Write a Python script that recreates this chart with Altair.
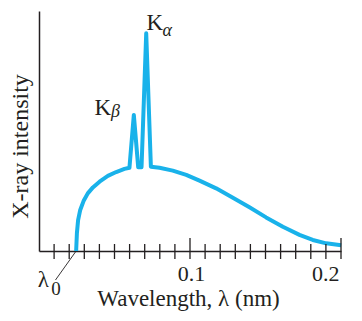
import altair as alt
import pandas as pd

# continuous spectrum with the two characteristic lines
wavelength = [0.0246, 0.0251, 0.0259, 0.0273, 0.0295, 0.0323, 0.0357, 0.0401, 0.0456,
              0.0511, 0.0566, 0.0599, 0.0628, 0.0657, 0.0679, 0.0710, 0.0741, 0.0798,
              0.0886, 0.0975, 0.1063, 0.1173, 0.1284, 0.1394, 0.1504, 0.1615, 0.1725,
              0.1813, 0.1902, 0.2001]
intensity = [0, 7.4, 12.9, 17.1, 20.8, 24.0, 26.5, 28.9, 31.3,
             32.9, 34.2, 34.7, 56.7, 34.9, 34.9, 90.7, 35.1, 34.7,
             33.5, 31.7, 29.3, 26.1, 22.2, 18.2, 14.0, 10.1, 6.7,
             4.6, 3.2, 2.4]

minor_ticks = [0.01, 0.02, 0.03, 0.04, 0.05, 0.06, 0.07, 0.08, 0.09,
               0.11, 0.12, 0.13, 0.14, 0.15, 0.16, 0.17, 0.18, 0.19]
major_ticks = [0.1, 0.2]
tick_labels = [0.1, 0.2]

peak_names = ["K", "K"]
peak_subs = ["α", "β"]
lambda_name = ["λ"]
lambda_sub = ["0"]

INK = "#231f20"
BLUE = "#19b2ea"
FONT = "Liberation Serif"

curve = pd.DataFrame({"x": wavelength, "y": intensity})

xs = alt.Scale(domain=[0, 0.2], nice=False, zero=False)
ys = alt.Scale(domain=[0, 100], nice=False, zero=False)

base_x_axis = alt.Axis(values=tick_labels, format=".1f", ticks=False, tickSize=0,
                       grid=False, domainColor=INK, domainWidth=1.5,
                       labelFont=FONT, labelFontSize=22, labelColor=INK,
                       labelBaseline="alphabetic", labelPadding=29,
                       labelOffset={"condition": {"test": "datum.value > 0.15", "value": -2},
                                    "value": 1},
                       title="Wavelength, λ (nm)", titleFont=FONT, titleFontSize=23,
                       titleFontWeight="normal", titleColor=INK,
                       titleBaseline="alphabetic", titleY=54, titleX=149)
base_y_axis = alt.Axis(ticks=False, labels=False, grid=False, domainColor=INK,
                       domainWidth=1.5, title="X-ray intensity", titleFont=FONT,
                       titleFontSize=24, titleFontWeight="normal", titleColor=INK,
                       titleBaseline="alphabetic", titleAngle=270, titleX=-12, titleY=135)

line = alt.Chart(curve).mark_line(color=BLUE, strokeWidth=4, strokeJoin="round",
                                  clip=False).encode(
    x=alt.X("x:Q", scale=xs, axis=base_x_axis),
    y=alt.Y("y:Q", scale=ys, axis=base_y_axis),
)

minor = alt.Chart(pd.DataFrame({"x": minor_ticks})).mark_rule(color=INK, strokeWidth=1.3).encode(
    x=alt.X("x:Q", scale=xs), y=alt.value(233), y2=alt.value(248))
major = alt.Chart(pd.DataFrame({"x": major_ticks})).mark_rule(color=INK, strokeWidth=1.3).encode(
    x=alt.X("x:Q", scale=xs), y=alt.value(227), y2=alt.value(248))

leader = alt.Chart(pd.DataFrame({"x": [wavelength[0]], "y": [0.0],
                                 "x2": [0.0109], "y2": [-12.1]})).mark_rule(
    color=INK, strokeWidth=0.9).encode(
    x=alt.X("x:Q", scale=xs), y=alt.Y("y:Q", scale=ys), x2="x2:Q", y2="y2:Q")

k_main = alt.Chart(pd.DataFrame({"t": peak_names, "x": [0.0712, 0.0368],
                                 "y": [92.1, 56.7]})).mark_text(
    font=FONT, fontSize=23, color=INK, align="left", baseline="alphabetic").encode(
    x=alt.X("x:Q", scale=xs), y=alt.Y("y:Q", scale=ys), text="t:N")
k_sub = alt.Chart(pd.DataFrame({"t": peak_subs, "x": [0.0818, 0.0477],
                                "y": [89.6, 55.8]})).mark_text(
    font=FONT, fontSize=18, fontStyle="italic", color=INK, align="left",
    baseline="alphabetic").encode(
    x=alt.X("x:Q", scale=xs), y=alt.Y("y:Q", scale=ys), text="t:N")
lam = alt.Chart(pd.DataFrame({"t": lambda_name, "x": [-0.0008], "y": [-15.0]})).mark_text(
    font=FONT, fontSize=23, color=INK, align="left", baseline="alphabetic").encode(
    x=alt.X("x:Q", scale=xs), y=alt.Y("y:Q", scale=ys), text="t:N")
lam_sub = alt.Chart(pd.DataFrame({"t": lambda_sub, "x": [0.0081], "y": [-18.3]})).mark_text(
    font=FONT, fontSize=19, color=INK, align="left", baseline="alphabetic").encode(
    x=alt.X("x:Q", scale=xs), y=alt.Y("y:Q", scale=ys), text="t:N")

chart = alt.layer(line, minor, major, leader, k_main, k_sub, lam, lam_sub).properties(
    width=302, height=240,
    autosize=alt.AutoSizeParams(type="none"),
    padding={"left": 31, "top": 3, "right": 13, "bottom": 64},
    background="white",
).configure_view(stroke=None)

chart.save("out.html", embed_options={"renderer": "svg", "actions": False})
